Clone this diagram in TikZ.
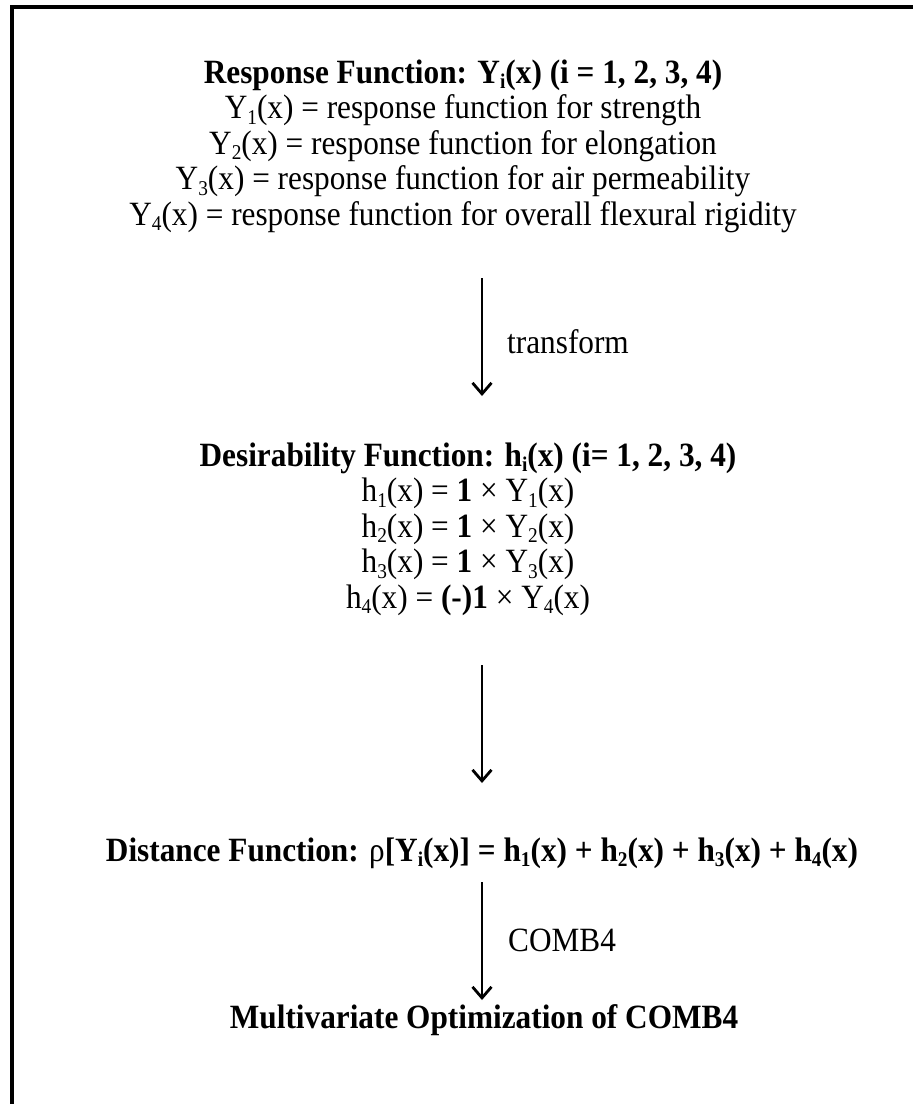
\documentclass[tikz,border=0pt]{standalone}
\usepackage{fontspec}
\setmainfont[FakeStretch=0.92]{Liberation Serif}
\usetikzlibrary{arrows.meta}
\newcommand{\sbx}[1]{\raisebox{-0.17em}[0pt][0pt]{\fontsize{21}{21}\selectfont #1}}
\begin{document}
\begin{tikzpicture}[x=1pt,y=-1pt,
  txt/.style={inner sep=0pt,align=center,font=\fontsize{34}{35.5}\selectfont},
  lbl/.style={inner sep=0pt,anchor=west,font=\fontsize{34}{35.5}\selectfont},
  arr/.style={line width=2.6pt,-{Straight Barb[length=11pt,width=19pt,line width=2.8pt]}},
  frame/.style={line width=4pt}]
\useasboundingbox (0,0) rectangle (913,1104);
% frame (top and left edges visible)
\draw[frame] (913,7) -- (12,7) -- (12,1104);
% blocks
\node[txt] (resp) at (463,146) {\textbf{Response Function: Y\sbx{i}(x) (i = 1, 2, 3, 4)}\\
Y\sbx{1}(x) = response function for strength\\
Y\sbx{2}(x) = response function for elongation\\
Y\sbx{3}(x) = response function for air permeability\\
Y\sbx{4}(x) = response function for overall flexural rigidity};
\node[txt] (desir) at (468,529) {\textbf{Desirability Function: h\sbx{i}(x) (i= 1, 2, 3, 4)}\\
h\sbx{1}(x) = \textbf{1} × Y\sbx{1}(x)\\
h\sbx{2}(x) = \textbf{1} × Y\sbx{2}(x)\\
h\sbx{3}(x) = \textbf{1} × Y\sbx{3}(x)\\
h\sbx{4}(x) = \textbf{(-)1} × Y\sbx{4}(x)};
\node[txt] (dist) at (482,853) {\textbf{Distance Function:} ρ\textbf{[Y\sbx{i}(x)] = h\sbx{1}(x) + h\sbx{2}(x) + h\sbx{3}(x) + h\sbx{4}(x)}};
\node[txt] (multi) at (484,1020) {\textbf{Multivariate Optimization of COMB4}};
% connectors
\coordinate (a1s) at (482,278); \coordinate (a1e) at (482,396);
\coordinate (a2s) at (482,665); \coordinate (a2e) at (482,783);
\coordinate (a3s) at (482,882); \coordinate (a3e) at (482,1000);
\draw[arr] (a1s) -- (a1e);
\draw[arr] (a2s) -- (a2e);
\draw[arr] (a3s) -- (a3e);
\node[lbl] (l1) at (507,342) {transform};
\node[lbl] (l3) at (508,940) {COMB4};
\end{tikzpicture}
\end{document}
